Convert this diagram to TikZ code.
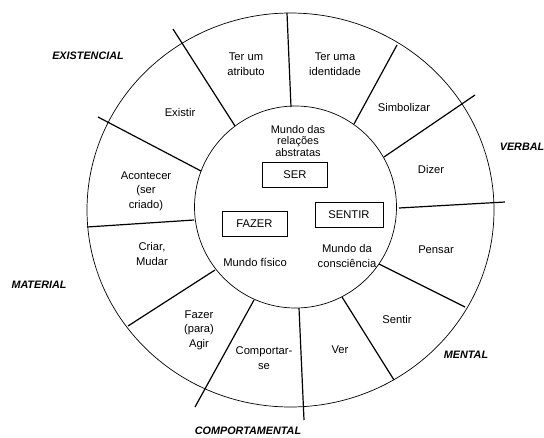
\documentclass[tikz,border=0pt]{standalone}
\usepackage{fontspec}
\setmainfont{Liberation Sans}
\begin{document}
\begin{tikzpicture}[x=1pt,y=-1pt,
  lbl/.style={align=center,font=\fontsize{11.2}{14.5}\selectfont,inner sep=0pt},
  ilbl/.style={align=center,font=\fontsize{11}{11.8}\selectfont,inner sep=0pt},
  cat/.style={font=\fontsize{10.8}{13}\selectfont\bfseries\itshape,inner sep=0pt},
  spoke/.style={line width=1.2pt},
  ring/.style={line width=0.7pt},
  wbox/.style={draw,line width=0.8pt,minimum width=65pt,minimum height=25pt,inner sep=0pt,font=\fontsize{11.2}{13}\selectfont}]
\useasboundingbox (0,0) rectangle (544,437);
% rings
\draw[ring] (290.5,210) ellipse [x radius=203.5, y radius=197];
\draw[ring] (295.5,207) circle [radius=101];
% spokes
\draw[spoke] (291,107) -- (287,13);
\draw[spoke] (354,124) -- (397,45);
\draw[spoke] (384,157) -- (475,95);
\draw[spoke] (399,208) -- (505,202);
\draw[spoke] (379,264) -- (465,307);
\draw[spoke] (342,297) -- (394,380);
\draw[spoke] (299,308) -- (304,420);
\draw[spoke] (254,300) -- (195,407);
\draw[spoke] (215,270) -- (128,326);
\draw[spoke] (194,220) -- (87,227);
\draw[spoke] (201,171) -- (98,117);
\draw[spoke] (235,126) -- (173,29);
% segment labels
\node[lbl] (atributo) at (246,64) {Ter um\\atributo};
\node[lbl] (identidade) at (335,64) {Ter uma\\identidade};
\node[lbl] (simbolizar) at (404,107) {Simbolizar};
\node[lbl] (dizer) at (431,169) {Dizer};
\node[lbl] (pensar) at (436,250) {Pensar};
\node[lbl] (sentir) at (397,319) {Sentir};
\node[lbl] (ver) at (340,350) {Ver};
\node[lbl] (comportar) at (264,358) {Comportar-\\se};
\node[lbl] (fazerag) at (199,330) {Fazer\\(para)\\Agir};
\node[lbl] (criar) at (152,254) {Criar,\\Mudar};
\node[lbl] (acontecer) at (146,191) {Acontecer\\(ser\\criado)};
\node[lbl] (existir) at (180,112) {Existir};
% category labels
\node[cat] (existencial) at (88,56) {EXISTENCIAL};
\node[cat] (verbal) at (522,147) {VERBAL};
\node[cat] (mental) at (466,355) {MENTAL};
\node[cat] (comportamental) at (248,431) {COMPORTAMENTAL};
\node[cat] (material) at (39,285) {MATERIAL};
% inner
\node[ilbl] (abstratas) at (298,141) {Mundo das\\relações\\abstratas};
\node[wbox] (ser) at (295,175) {SER};
\node[wbox] (fazer) at (254.5,224) {FAZER};
\node[wbox,minimum width=68pt] (sentirb) at (349,215) {SENTIR};
\node[lbl] (fisico) at (255,262) {Mundo físico};
\node[lbl] (consciencia) at (347,256) {Mundo da\\consciência};
\end{tikzpicture}
\end{document}
